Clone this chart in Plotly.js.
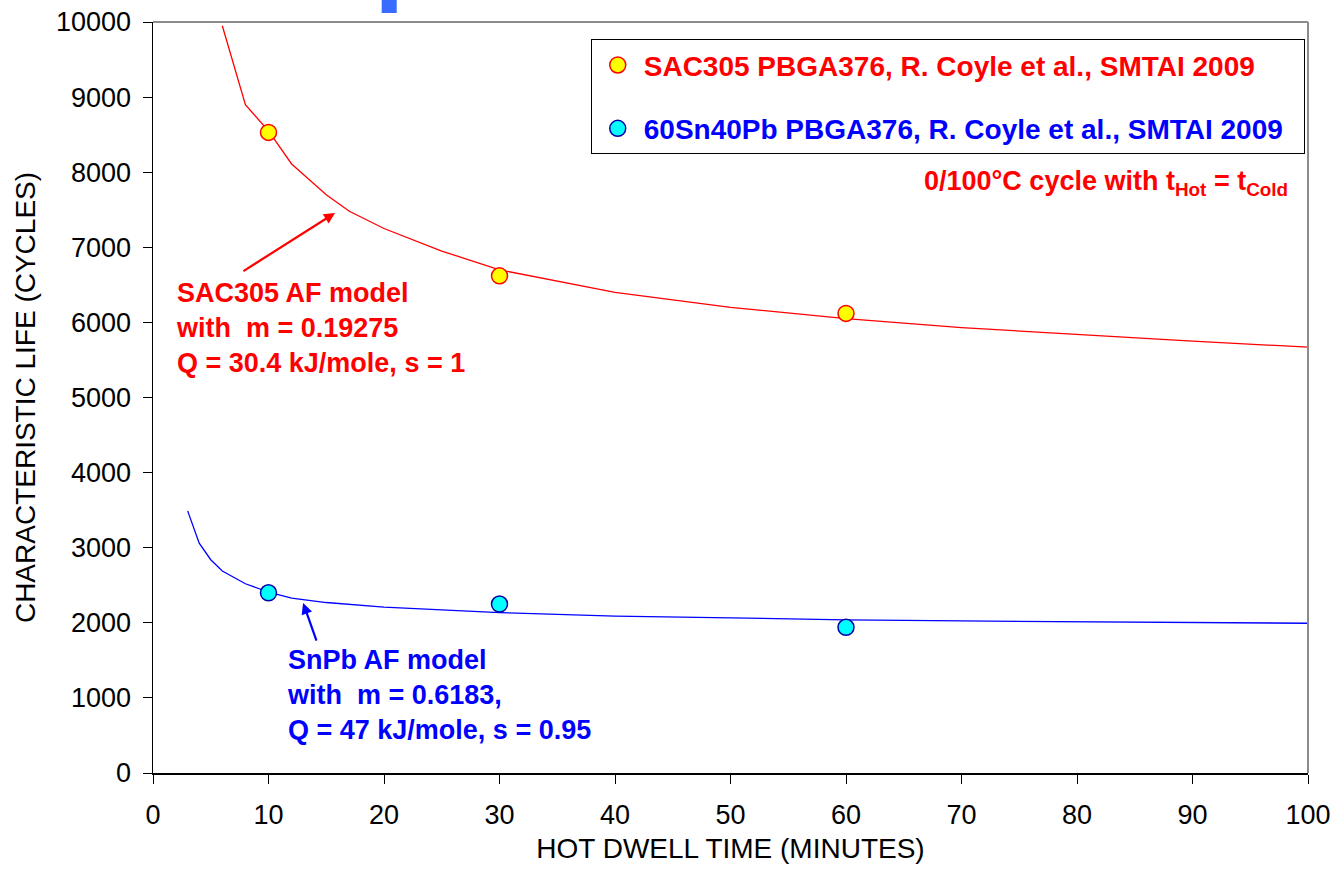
<!DOCTYPE html>
<html>
<head>
<meta charset="utf-8">
<script src="https://cdn.plot.ly/plotly-3.0.1.min.js"></script>
<style>html,body{margin:0;padding:0;background:#fff;}#chart{width:1333px;height:874px;}</style>
</head>
<body>
<div id="chart"></div>
<script>
// Measured data
const sacX = [10, 30, 60];
const sacY = [8530, 6620, 6120];
const snpbX = [10, 30, 60];
const snpbY = [2400, 2250, 1940];

// AF model curves
const sacModelX = [6, 8, 10, 12, 15, 17, 20, 25, 30, 40, 50, 60, 70, 80, 90, 100, 101];
const sacModelY = [9950, 8900, 8550, 8110, 7700, 7480, 7250, 6950, 6700, 6400, 6200, 6050, 5930, 5840, 5750, 5670, 5665];
const snpbModelX = [3, 4, 5, 6, 8, 10, 12, 15, 20, 25, 30, 40, 50, 60, 70, 80, 90, 100, 101];
const snpbModelY = [3490, 3060, 2840, 2690, 2520, 2410, 2330, 2270, 2210, 2170, 2135, 2090, 2060, 2040, 2025, 2015, 2005, 1995, 1993];

const sacName = '<span style="color:#FF0000">SAC305 PBGA376, R. Coyle et al., SMTAI 2009</span>';
const snpbName = '<span style="color:#0000FF">60Sn40Pb PBGA376, R. Coyle et al., SMTAI 2009\u00A0\u00A0</span>';

const FONT = 'Liberation Sans, Arial, sans-serif';

const traces = [
  {x: sacModelX, y: sacModelY, mode: 'lines', line: {color: '#FF0000', width: 1.3}, showlegend: false, hoverinfo: 'skip'},
  {x: snpbModelX, y: snpbModelY, mode: 'lines', line: {color: '#0000FF', width: 1.3}, showlegend: false, hoverinfo: 'skip'},
  {x: sacX, y: sacY, mode: 'markers', name: sacName, legendgroup: 'a',
   marker: {size: 16, color: '#FFFF00', line: {color: '#FF0000', width: 1.5}}},
  {x: snpbX, y: snpbY, mode: 'markers', name: snpbName, legendgroup: 'b',
   marker: {size: 16, color: '#00FFFF', line: {color: '#0000AA', width: 1.5}}}
];

const layout = {
  width: 1333, height: 874,
  margin: {l: 153, r: 25, t: 22, b: 101},
  paper_bgcolor: '#fff', plot_bgcolor: '#fff',
  font: {family: FONT, size: 27, color: '#000'},
  xaxis: {
    range: [0, 100], tick0: 0, dtick: 10, showgrid: false, zeroline: false,
    showline: true, linecolor: '#000', linewidth: 1.5,
    ticks: 'outside', ticklen: 9, tickwidth: 1, tickcolor: '#000',
    ticklabelstandoff: 8, tickformat: 'd',
    tickfont: {family: FONT, size: 27},
    title: {text: 'HOT DWELL TIME (MINUTES)', font: {family: FONT, size: 28}, standoff: 9}
  },
  yaxis: {
    range: [0, 10000], tick0: 0, dtick: 1000, showgrid: false, zeroline: false,
    showline: true, linecolor: '#000', linewidth: 1.5,
    ticks: 'outside', ticklen: 9, tickwidth: 1, tickcolor: '#000',
    ticklabelstandoff: 6, tickformat: 'd',
    tickfont: {family: FONT, size: 27},
    title: {text: 'CHARACTERISTIC LIFE (CYCLES)', font: {family: FONT, size: 28}, standoff: 12}
  },
  showlegend: true,
  legend: {
    x: 0.379, y: 0.977, xanchor: 'left', yanchor: 'top',
    bgcolor: '#fff', bordercolor: '#000', borderwidth: 1,
    font: {family: FONT, size: 28, weight: 'bold'},
    itemwidth: 42,
    tracegroupgap: 24
  },
  shapes: [
    {type: 'line', xref: 'paper', yref: 'paper', x0: 0, x1: 1, y0: 1, y1: 1, line: {color: '#8c8c8c', width: 2}},
    {type: 'line', xref: 'paper', yref: 'paper', x0: 1, x1: 1, y0: 0, y1: 1, line: {color: '#8c8c8c', width: 2}},
    {type: 'rect', xref: 'paper', yref: 'paper', x0: 0.198, x1: 0.211, y0: 1.012, y1: 1.03, fillcolor: '#3A6BFF', line: {width: 0}}
  ],
  annotations: [
    {x: 98.4, y: 7850, xref: 'x', yref: 'y', xanchor: 'right', yanchor: 'middle', showarrow: false,
     text: '0/100°C cycle with t<sub>Hot</sub> = t<sub>Cold</sub>', font: {family: FONT, size: 27, color: '#FF0000', weight: 'bold'}},
    {x: 1.85, y: 5925, xref: 'x', yref: 'y', xanchor: 'left', yanchor: 'middle', align: 'left', showarrow: false,
     text: 'SAC305 AF model<br>with  m = 0.19275<br>Q = 30.4 kJ/mole, s = 1', font: {family: FONT, size: 27, color: '#FF0000', weight: 'bold'}},
    {x: 11.45, y: 1039, xref: 'x', yref: 'y', xanchor: 'left', yanchor: 'middle', align: 'left', showarrow: false,
     text: 'SnPb AF model<br>with  m = 0.6183,<br>Q = 47 kJ/mole, s = 0.95', font: {family: FONT, size: 27, color: '#0000FF', weight: 'bold'}},
    {x: 15.76, y: 7457, xref: 'x', yref: 'y', ax: 7.7, ay: 6671, axref: 'x', ayref: 'y', text: '',
     showarrow: true, arrowhead: 2, arrowsize: 1, arrowwidth: 2.2, arrowcolor: '#FF0000', standoff: 0},
    {x: 13.0, y: 2264, xref: 'x', yref: 'y', ax: 14.2, ay: 1744, axref: 'x', ayref: 'y', text: '',
     showarrow: true, arrowhead: 2, arrowsize: 1, arrowwidth: 2.2, arrowcolor: '#0000FF', standoff: 0}
  ]
};

Plotly.newPlot('chart', traces, layout, {displayModeBar: false, staticPlot: true});
</script>
</body>
</html>
